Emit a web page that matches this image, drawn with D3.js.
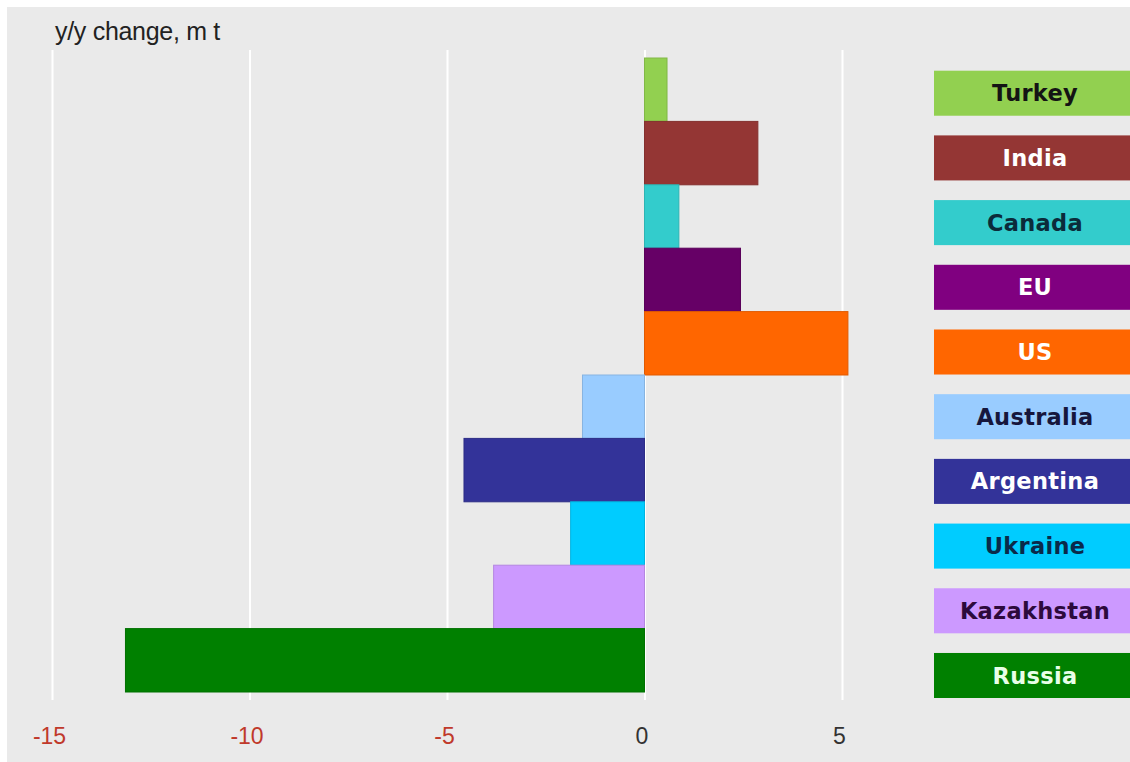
<!DOCTYPE html>
<html>
<head>
<meta charset="utf-8">
<script src="https://cdn.jsdelivr.net/npm/d3@7"></script>
<style>
  html, body { margin: 0; padding: 0; background: #ffffff; }
  svg { display: block; }
</style>
</head>
<body>
<svg id="chart" width="1130" height="762"></svg>
<script>
// Year-on-year change in wheat production by country, million tonnes
const countries = ["Turkey", "India", "Canada", "EU", "US", "Australia", "Argentina", "Ukraine", "Kazakhstan", "Russia"];
const changes = [0.57, 2.87, 0.87, 2.43, 5.15, -1.57, -4.57, -1.87, -3.82, -13.14];
const barColors = ["#92d050", "#943634", "#33cccc", "#660066", "#ff6600", "#99ccff", "#333399", "#00ccff", "#cc99ff", "#008000"];
const legendColors = ["#92d050", "#943634", "#33cccc", "#800080", "#ff6600", "#99ccff", "#333399", "#00ccff", "#cc99ff", "#008000"];
const legendTextColors = ["#141414", "#ffffff", "#0b2b3a", "#ffffff", "#ffffff", "#16163c", "#ffffff", "#0a2a4a", "#2d0a3c", "#e8ffe8"];
const xTicks = [-15, -10, -5, 0, 5];
const yTitle = "y/y change, m t";

const svg = d3.select("#chart");

// panel background
svg.append("rect")
  .attr("x", 7).attr("y", 7)
  .attr("width", 1123).attr("height", 755)
  .attr("fill", "#eaeaea");

const x = d3.scaleLinear().domain([-15, 5]).range([52, 842]);
const y = d3.scaleBand().domain(countries).range([58, 692]).padding(0);

// vertical gridlines
svg.append("g")
  .attr("transform", "translate(0,50)")
  .call(d3.axisBottom(x).tickValues(xTicks).tickSize(650).tickFormat(""))
  .call(g => g.select(".domain").remove())
  .call(g => g.selectAll(".tick line").attr("stroke", "#ffffff").attr("stroke-width", 2));

// bars
svg.append("g")
  .selectAll("rect")
  .data(countries)
  .join("rect")
  .attr("x", (d, i) => x(Math.min(0, changes[i])))
  .attr("y", d => y(d))
  .attr("width", (d, i) => Math.abs(x(changes[i]) - x(0)))
  .attr("height", y.bandwidth())
  .attr("fill", (d, i) => barColors[i])
  .attr("stroke", (d, i) => d3.color(barColors[i]).darker(0.35))
  .attr("stroke-width", 1);

// x axis labels (plain hyphen for negatives)
svg.append("g")
  .attr("transform", "translate(-3,728)")
  .call(d3.axisBottom(x).tickValues(xTicks).tickSize(0).tickPadding(0).tickFormat(d => String(d)))
  .call(g => g.select(".domain").remove())
  .call(g => g.selectAll(".tick text")
    .attr("font-family", "'Liberation Sans', Arial, sans-serif")
    .attr("font-size", 23)
    .attr("dy", "0.71em")
    .attr("fill", d => d < 0 ? "#c0392b" : "#333333"));

// axis title
svg.append("text")
  .attr("x", 55).attr("y", 40)
  .attr("font-family", "'Liberation Sans', Arial, sans-serif")
  .attr("font-size", 25)
  .attr("letter-spacing", -0.3)
  .attr("fill", "#222222")
  .text(yTitle);

// legend
const ly = d3.scaleBand().domain(countries).range([70.7, 698]).paddingInner(0.304).paddingOuter(0);
const legend = svg.append("g")
  .selectAll("g")
  .data(countries)
  .join("g")
  .attr("transform", d => `translate(934,${ly(d)})`);

legend.append("rect")
  .attr("width", 202)
  .attr("height", ly.bandwidth())
  .attr("fill", (d, i) => legendColors[i]);

legend.append("text")
  .attr("x", 101)
  .attr("y", ly.bandwidth() / 2)
  .attr("dy", "0.36em")
  .attr("text-anchor", "middle")
  .attr("font-family", "'DejaVu Sans', Verdana, sans-serif")
  .attr("font-weight", "bold")
  .attr("font-size", 22.5)
  .attr("letter-spacing", 0.3)
  .attr("fill", (d, i) => legendTextColors[i])
  .text(d => d);
</script>
</body>
</html>
